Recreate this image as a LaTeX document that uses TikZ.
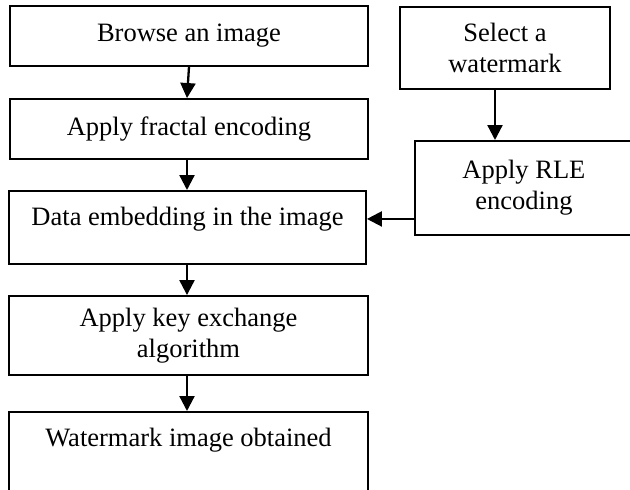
\documentclass[tikz,border=0pt]{standalone}
\usepackage{fontspec}
\setmainfont{Liberation Serif}
\usetikzlibrary{arrows.meta}
\begin{document}
\begin{tikzpicture}[x=1pt,y=-1pt,
  box/.style={draw,line width=1.9pt,inner sep=0pt,font=\fontsize{26.5}{31}\selectfont},
  arr/.style={-{Triangle[width=15pt,length=15pt]},line width=2.3pt}]
\useasboundingbox (0,0) rectangle (630,490);
\clip (0,0) rectangle (630,490);
\node[box,minimum width=358pt,minimum height=60pt] (b1) at (189,36) {Browse an image};
\node[box,minimum width=358pt,minimum height=60pt] (b2) at (189,129) {Apply fractal encoding};
\node[box,minimum width=357pt,text height=35pt,text depth=38pt,anchor=north] (b3) at (187.5,190) {Data embedding in the image};
\node[box,minimum width=359pt,minimum height=79pt,align=center] (b4) at (188.5,335.5) {Apply key exchange\\algorithm};
\node[box,minimum width=359pt,text height=35pt,text depth=90pt,anchor=north] (b5) at (188.5,411) {Watermark image obtained};
\node[box,minimum width=210pt,minimum height=82pt,align=center] (s1) at (505,48) {Select a\\watermark};
\node[box,minimum width=218pt,minimum height=94pt,align=center,anchor=north west] (r1) at (414,140) {Apply RLE\\encoding};
\draw[arr] (b1.south) -- ([xshift=-2pt]b2.north);
\draw[arr] ([xshift=-2pt]b2.south) -- ([xshift=-0.5pt]b3.north);
\draw[arr] ([xshift=-0.5pt]b3.south) -- ([xshift=-1.5pt]b4.north);
\draw[arr] ([xshift=-1.5pt]b4.south) -- ([xshift=-1.5pt]b5.north);
\draw[arr] ([xshift=-10pt]s1.south) -- ([xshift=-10pt]s1.south |- r1.north);
\draw[arr] ([yshift=-31pt]r1.west) -- ([yshift=-31pt]r1.west -| b3.east);
\end{tikzpicture}
\end{document}
